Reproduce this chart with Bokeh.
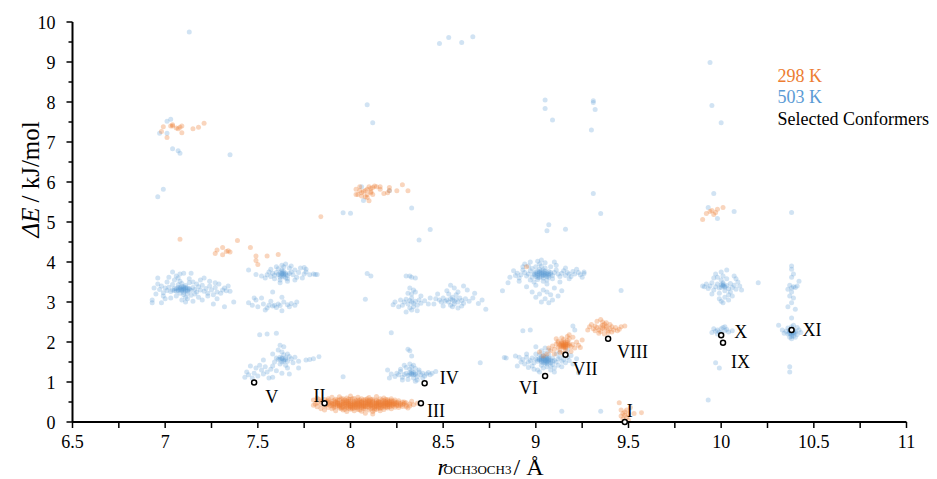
import math
from bokeh.plotting import figure
from bokeh.models import Range1d, ColumnDataSource
from bokeh.core.properties import value
from bokeh.embed import file_html
from bokeh.resources import INLINE

# ---------------- data (r_OCH3OCH3 / Angstrom, dE / kJ/mol) ----------------
# 503 K clusters
b_a = [(7.09,3.33),(7.10,3.30),(7.08,3.36),(7.11,3.28),(7.07,3.31),(7.12,3.35),(7.06,3.27),(7.13,3.32),(7.09,3.39),(7.10,3.24),
       (7.05,3.34),(7.14,3.29),(7.08,3.22),(7.11,3.41),(7.04,3.30),(7.15,3.36),(7.07,3.43),(7.12,3.21),(7.03,3.26),(7.16,3.31),
       (7.09,3.46),(7.10,3.18),(7.02,3.37),(7.17,3.25),(7.06,3.15),(7.13,3.48),(7.01,3.29),(7.18,3.38),(7.08,3.52),(7.11,3.12),
       (7.00,3.35),(7.19,3.30),(7.04,3.44),(7.14,3.17),(6.99,3.23),(7.20,3.42),(7.05,3.55),(7.12,3.08),(6.98,3.40),(7.21,3.27),
       (7.07,3.60),(7.15,3.50),(6.97,3.31),(7.22,3.34),(7.03,3.10),(7.16,3.20),(6.96,3.45),(7.23,3.22),(7.09,3.05),(7.13,3.58),
       (6.95,3.20),(7.24,3.40),(7.01,3.50),(7.18,3.12),(6.94,3.35),(7.25,3.30),(7.06,3.65),(7.17,3.45),(6.93,3.05),(7.26,3.18),
       (6.93,2.98),(7.27,3.36),(7.00,3.08),(7.19,3.55),(6.96,3.60),(7.28,3.25),(7.10,3.72),(7.20,3.05),(7.29,3.45),(7.31,3.30),
       (7.30,3.22),(7.33,3.28),(7.32,3.35),(7.35,3.27),(7.28,3.08),(7.26,2.95),(7.37,3.00),(7.14,3.72),(7.04,3.75),(6.98,2.98),
       (7.21,3.60),(7.02,3.62),(7.08,3.70),(7.23,3.15),(7.15,3.02),(7.24,3.52),(6.99,3.15),(7.11,3.00),(7.34,3.40),(7.27,3.48),
       (7.08,3.31),(7.10,3.35),(7.09,3.28),(7.11,3.33),(7.07,3.36),(7.12,3.30),
       (7.09,3.30),(7.10,3.32),(7.08,3.34),(7.11,3.36),(7.06,3.33),(7.12,3.27),(7.07,3.28),(7.13,3.34),(7.10,3.38),(7.05,3.29)]
b_b = [(7.63,3.70),(7.64,3.68),(7.62,3.73),(7.65,3.72),(7.63,3.65),(7.61,3.69),(7.66,3.66),(7.64,3.76),(7.62,3.62),(7.60,3.74),
       (7.67,3.71),(7.63,3.80),(7.65,3.60),(7.59,3.67),(7.68,3.75),(7.61,3.83),(7.66,3.58),(7.58,3.72),(7.69,3.68),(7.64,3.88),
       (7.62,3.55),(7.57,3.64),(7.70,3.80),(7.60,3.88),(7.67,3.85),(7.56,3.75),(7.71,3.62),(7.63,3.92),(7.66,3.52),(7.55,3.68),
       (7.72,3.74),(7.59,3.58),(7.68,3.90),(7.54,3.60),(7.73,3.85),(7.62,3.48),(7.75,3.70),(7.76,3.82),(7.57,3.82),(7.70,3.55),
       (7.78,3.68),(7.80,3.70),(7.52,3.65),(7.74,3.60),(7.65,3.95),(7.49,3.69),
       (7.63,3.72),(7.64,3.71),(7.62,3.67),(7.64,3.64),(7.63,3.76),(7.65,3.69)]
b_c = [(7.45,2.98),(7.47,2.92),(7.49,3.05),(7.50,2.88),(7.52,3.10),(7.53,2.95),(7.55,2.85),(7.56,2.92),(7.57,3.02),(7.58,2.90),
       (7.59,2.92),(7.60,2.86),(7.61,2.95),(7.62,2.91),(7.63,3.12),(7.64,3.00),(7.63,2.78),(7.66,2.93),(7.68,2.96),(7.70,2.92),
       (7.71,3.00),(7.58,3.25),(7.54,2.80),(7.48,3.10),(7.67,2.88)]
b_d = [(7.63,1.58),(7.64,1.55),(7.62,1.62),(7.65,1.60),(7.63,1.50),(7.61,1.56),(7.66,1.52),(7.64,1.68),(7.62,1.45),(7.60,1.60),
       (7.67,1.64),(7.63,1.75),(7.65,1.42),(7.59,1.50),(7.68,1.58),(7.61,1.80),(7.66,1.70),(7.58,1.40),(7.69,1.48),(7.64,1.88),
       (7.57,1.32),(7.55,1.25),(7.53,1.20),(7.52,1.30),(7.50,1.15),(7.48,1.22),(7.47,1.10),(7.45,1.18),(7.44,1.25),(7.43,1.12),
       (7.56,1.10),(7.58,1.12),(7.54,1.38),(7.51,1.42),(7.60,1.28),(7.70,1.62),(7.72,1.52),(7.66,1.35),(7.63,1.22),(7.67,1.20),
       (7.55,2.20),(7.60,2.22),(7.51,2.18),(7.62,1.92),(7.80,1.58),(7.76,1.55),(7.58,1.70),(7.46,1.40),(7.49,1.35),(7.53,1.55),
       (7.63,1.60),(7.64,1.52),(7.62,1.57),(7.65,1.56)]
b_e = [(8.33,3.00),(8.34,2.97),(8.32,3.04),(8.35,3.02),(8.31,2.95),(8.33,3.10),(8.36,2.92),(8.30,3.07),(8.34,2.88),(8.37,3.05),
       (8.32,2.85),(8.29,3.00),(8.38,2.97),(8.33,3.20),(8.35,3.25),(8.31,3.22),(8.28,2.92),(8.40,3.03),(8.33,2.80),(8.36,2.78),
       (8.30,2.75),(8.34,3.30),(8.32,3.35),(8.27,3.05),(8.42,2.95),(8.26,2.88),(8.38,3.15),(8.35,3.60),(8.33,3.62),(8.24,3.00)]
b_f = [(8.55,3.05),(8.56,3.02),(8.54,3.08),(8.57,3.06),(8.53,3.00),(8.55,3.12),(8.58,3.00),(8.52,3.05),(8.56,2.95),(8.59,3.10),
       (8.51,3.02),(8.54,2.92),(8.60,3.04),(8.50,3.10),(8.57,3.18),(8.53,3.20),(8.61,2.97),(8.49,3.00),(8.62,3.08),(8.55,2.88),
       (8.48,3.05),(8.64,3.02),(8.52,3.28),(8.58,3.25),(8.46,3.08),(8.66,3.10),(8.56,3.35),(8.60,2.90),(8.69,2.96),(8.73,2.82),
       (8.45,2.95),(8.67,3.22),(8.63,3.30),(8.50,2.90),(8.58,2.85),(8.54,3.42),(8.61,3.40),(8.47,3.20),(8.71,3.05),(8.43,3.10)]
b_g = [(9.03,3.70),(9.04,3.68),(9.02,3.73),(9.05,3.72),(9.01,3.66),(9.03,3.78),(9.06,3.64),(9.00,3.75),(9.04,3.60),(9.07,3.76),
       (8.99,3.69),(9.02,3.82),(9.08,3.70),(8.98,3.62),(9.05,3.85),(9.01,3.56),(9.09,3.66),(8.97,3.78),(9.06,3.55),(9.03,3.90),
       (8.96,3.70),(9.10,3.74),(9.00,3.88),(9.07,3.62),(8.95,3.65),(9.11,3.80),(9.04,3.52),(8.98,3.84),(9.12,3.70),(8.94,3.74),
       (9.02,3.95),(9.13,3.64),(8.97,3.55),(9.08,3.88),(8.93,3.80),(9.14,3.72),(9.05,3.98),(8.99,3.50),(9.15,3.78),(8.92,3.68),
       (9.09,3.58),(9.01,4.02),(9.16,3.66),(8.96,3.90),(9.17,3.74),(8.91,3.60),(9.06,3.45),(9.18,3.70),(8.90,3.72),(9.11,3.92),
       (9.19,3.64),(8.94,3.95),(9.20,3.76),(8.89,3.66),(9.21,3.70),(9.00,3.42),(9.13,3.50),(8.88,3.78),(9.23,3.74),(9.25,3.62),
       (9.26,3.75),(8.86,3.62),(8.85,3.48),(9.04,3.30),(9.02,3.20),(9.06,3.25),(9.08,3.18),(9.00,3.12),(9.05,3.08),(9.09,3.05),
       (9.03,3.00),(9.12,3.15),(8.98,3.25),(9.14,3.28),(9.07,2.98),(8.95,3.38),(9.10,3.35),(9.16,3.85),(8.93,3.88),(9.03,4.05),
       (9.18,3.58),(8.97,4.00),(9.10,4.00),(8.91,3.52),(9.22,3.82),(9.24,3.68),(9.01,3.62),(9.05,3.66),(9.02,3.75),(9.07,3.70),
       (9.03,3.72),(9.04,3.66),(9.01,3.71),(9.06,3.69),(9.00,3.64),(9.05,3.77),
       (9.02,3.68),(9.04,3.74),(9.03,3.64),(9.05,3.70),(9.01,3.77),(9.06,3.73),(9.00,3.69),(9.07,3.66),(9.02,3.61),(9.04,3.80),
       (8.99,3.72),(9.08,3.74)]
b_h = [(9.05,1.55),(9.06,1.52),(9.04,1.58),(9.07,1.56),(9.03,1.50),(9.05,1.62),(9.08,1.48),(9.02,1.55),(9.06,1.45),(9.09,1.60),
       (9.01,1.52),(9.04,1.66),(9.10,1.54),(9.00,1.58),(9.07,1.68),(9.03,1.42),(9.11,1.50),(8.99,1.48),(9.08,1.40),(9.05,1.72),
       (8.98,1.60),(9.12,1.58),(9.02,1.68),(9.09,1.44),(8.97,1.54),(9.13,1.62),(9.06,1.38),(9.00,1.70),(9.14,1.52),(8.96,1.50),
       (9.04,1.35),(9.11,1.70),(8.98,1.40),(9.15,1.56),(8.95,1.62),(9.03,1.78),(9.10,1.35),(8.94,1.45),(9.16,1.48),(9.07,1.80),
       (8.99,1.32),(9.12,1.42),(8.93,1.56),(9.17,1.62),(9.01,1.30),(9.13,1.75),(8.95,1.70),(9.08,1.30),(8.92,1.50),(9.18,1.54),
       (9.05,1.85),(9.14,1.38),(8.96,1.36),(9.19,1.66),(9.02,1.25),(8.91,1.62),(9.06,1.58),(9.04,1.48),(9.03,1.60),(9.07,1.50),
       (8.93,2.28),(8.97,2.30),(8.84,1.60),(8.89,1.65),(9.20,1.45),(9.22,1.58),(8.90,1.40),(9.17,1.80),(9.00,1.88),(9.10,1.25),
       (9.04,1.53),(9.06,1.57),(9.05,1.50),(9.03,1.56),(9.07,1.53),(9.05,1.59),
       (9.05,1.54),(9.04,1.60),(9.06,1.49),(9.03,1.53),(9.07,1.60),(9.02,1.58),(9.08,1.55),(9.05,1.47),(9.03,1.64),(9.06,1.62),
       (9.01,1.56),(9.09,1.52)]
b_i = [(8.33,1.20),(8.34,1.18),(8.32,1.23),(8.35,1.21),(8.31,1.16),(8.33,1.27),(8.36,1.14),(8.30,1.22),(8.34,1.10),(8.37,1.25),
       (8.29,1.19),(8.32,1.32),(8.38,1.18),(8.28,1.12),(8.35,1.34),(8.31,1.06),(8.39,1.22),(8.27,1.26),(8.36,1.05),(8.33,1.38),
       (8.26,1.18),(8.40,1.15),(8.30,1.36),(8.37,1.30),(8.25,1.22),(8.41,1.20),(8.34,1.42),(8.28,1.05),(8.42,1.24),(8.24,1.14),
       (8.32,1.45),(8.43,1.18),(8.27,1.32),(8.39,1.10),(8.22,1.20),(8.44,1.22),(8.35,1.02),(8.29,1.42),(8.46,1.26),(8.21,1.10),
       (8.33,1.21),(8.34,1.24),(8.32,1.18),(8.35,1.19)]
b_j = [(10.01,3.40),(10.02,3.37),(10.00,3.43),(10.03,3.41),(9.99,3.35),(10.01,3.48),(10.04,3.33),(9.98,3.45),(10.02,3.28),(10.05,3.46),
       (9.97,3.38),(10.00,3.55),(10.06,3.36),(9.96,3.30),(10.03,3.58),(9.99,3.22),(10.07,3.42),(9.95,3.48),(10.04,3.18),(10.01,3.65),
       (9.94,3.40),(10.08,3.32),(9.98,3.62),(10.05,3.25),(9.93,3.34),(10.09,3.50),(10.02,3.12),(9.97,3.70),(10.10,3.40),(9.92,3.45),
       (10.00,3.75),(10.06,3.15),(9.95,3.20),(10.03,3.80),(9.91,3.38),(10.11,3.30),(9.99,3.08),(10.04,3.05),(9.90,3.40),(10.07,3.65),
       (10.01,2.98),(10.00,3.02),(10.20,3.48),(9.96,3.60),(10.08,3.58),
       (10.01,3.42),(10.02,3.39),(10.00,3.37),(10.01,3.45)]
b_k = [(9.98,2.30),(10.00,2.33),(10.02,2.28),(9.99,2.25),(10.01,2.36),(9.97,2.27),(10.03,2.31),(10.00,2.22),(9.96,2.33),(10.04,2.25),
       (9.95,2.24),(10.02,2.38),(10.06,2.28),(9.98,2.20),(9.97,1.48),(9.99,1.35),(9.93,0.55)]
b_l = [(10.38,2.25),(10.39,2.22),(10.37,2.28),(10.40,2.26),(10.36,2.20),(10.38,2.32),(10.41,2.19),(10.35,2.27),(10.39,2.15),(10.42,2.30),
       (10.37,2.12),(10.38,2.38),(10.40,2.12),(10.36,2.35),(10.34,2.22),(10.41,2.36),(10.38,2.08),(10.39,2.42),(10.43,2.24),(10.33,2.30),
       (10.31,2.42),(10.38,2.18),(10.37,2.24),
       (10.38,2.27),(10.39,2.24),(10.37,2.21),(10.38,2.21),(10.40,2.23),(10.37,2.30),(10.39,2.29),(10.38,2.14),
       (10.38,3.90),(10.38,3.82),(10.39,3.70),(10.38,3.62),(10.37,3.42),(10.39,3.38),(10.38,3.35),(10.40,3.36),(10.36,3.32),(10.41,3.40),
       (10.38,3.25),(10.37,3.15),(10.39,3.10),(10.38,2.98),(10.36,2.88),(10.40,2.82),(10.38,2.60),(10.37,1.38),(10.37,1.25),(10.38,5.24),(10.42,3.52)]
b_scatter = [(7.13,9.75),(7.01,7.52),(7.03,7.57),(6.97,7.22),(7.01,7.22),(7.04,6.83),(7.07,6.78),(7.08,6.72),(7.35,6.68),(6.96,5.63),
             (6.99,5.82),(7.45,3.80),(7.75,3.86),(7.76,3.75),(7.81,3.69),(7.82,3.69),(8.09,3.71),(8.11,3.65),(8.08,3.07),(8.23,2.93),
             (8.22,2.23),(8.30,3.65),(8.32,3.65),(8.32,1.78),(8.33,1.65),(7.83,1.63),(7.78,1.56),(7.96,1.13),(8.31,1.82),(8.37,4.55),
             (8.43,4.81),(7.96,5.23),(8.00,5.22),(8.33,5.35),(8.06,5.88),(8.07,5.54),(8.21,5.78),(8.09,7.93),(8.12,7.48),(8.48,9.46),
             (8.53,9.61),(8.60,9.49),(8.66,9.63),(9.05,8.05),(9.05,7.84),(9.09,7.55),(9.31,8.03),(9.31,7.99),(9.32,7.81),(9.30,7.30),
             (9.31,5.71),(9.35,5.21),(9.07,4.93),(9.06,4.78),(9.16,4.82),(9.94,8.99),(9.95,7.91),(10.00,7.48),(9.96,5.71),(9.93,5.36),
             (9.98,5.09),(10.07,5.26),(8.82,3.28),(8.83,1.61),(8.70,1.48),(9.14,0.27),(9.35,0.27),(9.46,3.29),(9.20,2.40),(9.21,2.30),
             (9.23,1.23),(9.26,3.71),(7.32,2.88),(7.72,1.35),(8.20,1.30)]

# 298 K clusters
o_main = [(7.80,0.55),(7.80,0.42),(7.82,0.48),(7.82,0.38),(7.82,0.60),(7.84,0.44),(7.84,0.52),(7.84,0.33),
          (7.86,0.40),(7.86,0.56),(7.86,0.47),(7.86,0.30),(7.88,0.45),(7.88,0.36),(7.88,0.58),(7.88,0.50),
          (7.90,0.42),(7.90,0.52),(7.90,0.33),(7.90,0.62),(7.90,0.47),(7.92,0.38),(7.92,0.49),(7.92,0.57),(7.92,0.28),(7.92,0.44),
          (7.94,0.46),(7.94,0.35),(7.94,0.55),(7.94,0.41),(7.94,0.63),(7.96,0.40),(7.96,0.50),(7.96,0.30),(7.96,0.58),(7.96,0.45),
          (7.98,0.43),(7.98,0.36),(7.98,0.53),(7.98,0.26),(7.98,0.60),(7.98,0.48),(8.00,0.39),(8.00,0.47),(8.00,0.56),(8.00,0.32),(8.00,0.44),(8.00,0.65),
          (8.02,0.42),(8.02,0.51),(8.02,0.35),(8.02,0.59),(8.02,0.28),(8.02,0.46),(8.04,0.38),(8.04,0.48),(8.04,0.55),(8.04,0.31),(8.04,0.43),(8.04,0.62),
          (8.06,0.45),(8.06,0.36),(8.06,0.52),(8.06,0.27),(8.06,0.58),(8.06,0.41),(8.08,0.40),(8.08,0.49),(8.08,0.33),(8.08,0.56),(8.08,0.44),(8.08,0.22),
          (8.10,0.37),(8.10,0.47),(8.10,0.54),(8.10,0.30),(8.10,0.42),(8.10,0.61),(8.12,0.43),(8.12,0.35),(8.12,0.51),(8.12,0.26),(8.12,0.57),(8.12,0.20),
          (8.14,0.39),(8.14,0.48),(8.14,0.32),(8.14,0.55),(8.14,0.44),(8.14,0.64),(8.16,0.41),(8.16,0.50),(8.16,0.34),(8.16,0.58),(8.16,0.28),
          (8.18,0.38),(8.18,0.46),(8.18,0.53),(8.18,0.31),(8.18,0.60),(8.20,0.42),(8.20,0.49),(8.20,0.35),(8.20,0.56),(8.20,0.44),
          (8.22,0.40),(8.22,0.47),(8.22,0.33),(8.22,0.54),(8.22,0.58),(8.24,0.43),(8.24,0.50),(8.24,0.37),(8.24,0.55),
          (8.26,0.41),(8.26,0.48),(8.26,0.36),(8.26,0.53),(8.28,0.44),(8.28,0.50),(8.28,0.39),(8.30,0.42),(8.30,0.48),(8.30,0.38),
          (8.32,0.45),(8.32,0.40),(8.34,0.43),
          (7.91,0.45),(7.91,0.54),(7.93,0.41),(7.93,0.50),(7.95,0.48),(7.95,0.37),(7.97,0.44),(7.97,0.55),(7.99,0.40),(7.99,0.51),
          (8.01,0.46),(8.01,0.37),(8.03,0.43),(8.03,0.53),(8.05,0.40),(8.05,0.50),(8.07,0.47),(8.07,0.38),(8.09,0.43),(8.09,0.53),
          (8.11,0.40),(8.11,0.50),(8.13,0.46),(8.13,0.38),(8.15,0.43),(8.15,0.52),(8.17,0.45),(8.17,0.36),(8.19,0.42),(8.19,0.51),
          (8.21,0.45),(8.21,0.38),(8.23,0.46),(8.25,0.45),(8.27,0.46),
          (7.93,0.46),(7.95,0.43),(7.97,0.49),(7.99,0.45),(8.01,0.42),(8.03,0.48),(8.05,0.45),(8.07,0.42),(8.09,0.48),(8.11,0.45),
          (8.13,0.42),(8.15,0.47),(8.17,0.41),(8.19,0.46),(8.21,0.43),(7.94,0.39),(7.96,0.53),(7.98,0.39),(8.00,0.51),(8.02,0.39),
          (8.04,0.51),(8.06,0.48),(8.08,0.38),(8.10,0.51),(8.12,0.39),(8.14,0.52),(8.16,0.44),(8.18,0.49),(8.20,0.38),(8.22,0.44),
          (7.89,0.41),(7.91,0.36),(7.95,0.58),(7.99,0.34),(8.03,0.36),(8.07,0.55),(8.11,0.33),(8.15,0.35),(8.19,0.56),(8.23,0.40),
          (7.87,0.52),(7.97,0.32),(8.01,0.58),(8.05,0.30),(8.09,0.58),(8.13,0.30),(8.17,0.55),(8.21,0.52),(8.25,0.49),(8.29,0.46),
          (8.36,0.47),(8.33,0.52),(8.31,0.35),(7.83,0.56),(7.81,0.45),
          (7.90,0.45),(7.92,0.51),(7.94,0.43),(7.96,0.47),(7.98,0.50),(8.00,0.42),(8.02,0.48),(8.04,0.45),(8.06,0.50),(8.08,0.46),
          (8.10,0.44),(8.12,0.48),(8.14,0.41),(8.16,0.47),(8.18,0.43),(8.20,0.47),(8.22,0.50),(8.24,0.46),(7.91,0.40),(7.93,0.55),
          (7.95,0.33),(7.97,0.39),(7.99,0.57),(8.01,0.33),(8.03,0.40),(8.05,0.55),(8.07,0.33),(8.09,0.38),(8.11,0.56),(8.13,0.34),
          (8.15,0.39),(8.17,0.50),(8.19,0.37),(8.21,0.48),(8.23,0.52),(8.25,0.41),(7.89,0.48),(7.87,0.43),(7.88,0.54),(7.96,0.36),
          (8.00,0.36),(8.04,0.35),(8.08,0.52),(8.12,0.53),(8.16,0.37),(8.20,0.53),(8.27,0.42),(8.29,0.50),(7.99,0.47),(8.05,0.42),
          (8.10,0.49),(8.14,0.46),(8.18,0.41),(7.93,0.47),(8.02,0.45),(8.06,0.39),(8.11,0.42),(8.15,0.50),(8.19,0.48),(8.23,0.44)]
o_vii = [(9.15,1.92),(9.16,1.95),(9.14,1.88),(9.17,1.90),(9.15,1.98),(9.13,1.93),(9.16,1.85),(9.18,1.96),(9.14,2.00),(9.12,1.87),
         (9.17,2.03),(9.19,1.88),(9.13,1.80),(9.15,2.06),(9.20,1.94),(9.11,1.95),(9.16,1.78),(9.18,2.08),(9.12,2.02),(9.21,1.85),
         (9.10,1.82),(9.14,2.10),(9.19,1.76),(9.22,2.00),(9.09,1.90),(9.17,2.14),(9.13,1.74),(9.23,1.92),(9.11,2.08),(9.20,2.12),
         (9.08,1.78),(9.15,1.72),(9.24,1.86),(9.18,2.18),(9.06,1.70),(9.04,1.65),(9.10,1.70),(9.25,2.05),(9.16,1.90),(9.14,1.95),
         (9.15,1.86),(9.17,1.98),(9.12,1.98),(9.07,1.85),(9.02,1.75),(9.15,1.94),(9.16,1.88),(9.14,1.91),
         (9.15,1.90),(9.16,1.93),(9.14,1.97),(9.17,1.94),(9.15,1.88),(9.16,2.00),(9.13,1.90),(9.18,1.92)]
o_viii = [(9.36,2.35),(9.37,2.32),(9.35,2.38),(9.38,2.36),(9.34,2.30),(9.36,2.42),(9.39,2.28),(9.33,2.36),(9.37,2.45),(9.40,2.33),
          (9.32,2.40),(9.35,2.26),(9.41,2.38),(9.31,2.33),(9.38,2.48),(9.34,2.22),(9.42,2.30),(9.30,2.44),(9.39,2.24),(9.36,2.50),
          (9.43,2.36),(9.29,2.38),(9.33,2.52),(9.40,2.44),(9.44,2.28),(9.37,2.20),(9.46,2.38),(9.48,2.40),(9.28,2.30),(9.35,2.56),
          (9.38,2.40),(9.41,2.25),(9.32,2.28),(9.45,2.32)]
o_i = [(9.45,0.48),(9.46,0.30),(9.47,0.21),(9.48,0.17),(9.49,0.12),(9.48,0.25),(9.50,0.20),(9.51,0.36),(9.53,0.21),(9.57,0.23),
       (9.47,0.08),(9.49,0.30),(9.46,0.15),(9.50,0.05)]
o_high = [(8.03,5.82),(8.03,5.69),(8.05,5.78),(8.05,5.88),(8.06,5.73),(8.06,5.65),(8.07,5.76),(8.08,5.79),(8.09,5.69),(8.09,5.82),
          (8.09,5.61),(8.10,5.88),(8.10,5.53),(8.11,5.73),(8.11,5.76),(8.12,5.69),(8.12,5.86),(8.13,5.90),(8.14,5.88),(8.16,5.82),
          (8.16,5.88),(8.18,5.71),(8.20,5.73),(8.21,5.86),(8.21,5.79),(8.25,5.78),(8.28,5.93),(8.31,5.78),(8.04,5.69),(8.08,5.63),
          (8.11,5.84),(7.84,5.13)]
o_top = [(6.98,7.26),(6.99,7.38),(7.01,7.11),(7.03,7.40),(7.04,7.40),(7.04,7.43),(7.07,7.33),(7.08,7.37),(7.09,7.40),(7.09,7.23),
         (7.15,7.33),(7.18,7.37),(7.21,7.47),(7.06,7.35)]
o_mid = [(7.27,4.21),(7.28,4.30),(7.31,4.36),(7.31,4.18),(7.33,4.26),(7.35,4.25),(7.34,4.28),(7.39,4.54),(7.46,4.36),(7.49,4.15),
         (7.49,4.04),(7.50,3.94),(7.55,4.15),(7.61,4.19),(7.08,4.57),(8.95,3.88)]
o_right = [(9.90,5.06),(9.92,5.21),(9.94,5.26),(9.95,5.29),(9.98,5.32),(10.01,5.36),(9.96,5.19),(9.97,5.24)]

# selected conformers
sel_names = ["I", "II", "III", "IV", "V", "VI", "VII", "VIII", "IX", "X", "XI"]
sel_x = [9.48, 7.86, 8.38, 8.40, 7.48, 9.05, 9.16, 9.39, 10.01, 10.00, 10.38]
sel_y = [0.00, 0.47, 0.47, 0.97, 0.99, 1.15, 1.68, 2.08, 1.98, 2.17, 2.30]

legend_labels = ["298 K", "503 K", "Selected Conformers"]

x_label_ticks = [6.5, 7, 7.5, 8, 8.5, 9, 9.5, 10, 10.5, 11]
x_tick_labels = ["6.5", "7", "7.5", "8", "8.5", "9", "9.5", "10", "10.5", "11"]
x_minor_ticks = [6.75, 7.25, 7.75, 8.25, 8.75, 9.25, 9.75, 10.25, 10.75]
y_label_ticks = [0, 1, 2, 3, 4, 5, 6, 7, 8, 9, 10]
y_tick_labels = ["0", "1", "2", "3", "4", "5", "6", "7", "8", "9", "10"]
y_minor_ticks = [0.5, 1.5, 2.5, 3.5, 4.5, 5.5, 6.5, 7.5, 8.5, 9.5]

# ---------------- layout / styling ----------------
ORANGE = "#ED7D31"
BLUE = "#5B9BD5"
FONT = "Liberation Serif"
W, H = 937, 479
X0, X1, XMIN, XMAX = 72.0, 906.0, 6.5, 11.0      # frame pixels for axis limits
Y0, Y1, YMIN, YMAX = 421.5, 21.5, 0.0, 10.0
SX = (X1 - X0) / (XMAX - XMIN)
SY = (Y0 - Y1) / (YMAX - YMIN)
XS = XMIN - X0 / SX
YE = YMAX + Y1 / SY


def xd(px):
    return XS + px / SX


def yd(py):
    return YE - py / SY


p = figure(width=W, height=H, output_backend="svg", toolbar_location=None, title=None,
           x_range=Range1d(xd(0), xd(W)), y_range=Range1d(yd(H), yd(0)),
           x_axis_location=None, y_axis_location=None, min_border=0)
p.min_border_left = p.min_border_right = p.min_border_top = p.min_border_bottom = 0
p.outline_line_color = None
p.grid.visible = False
p.background_fill_color = "white"
p.border_fill_color = "white"

blue_pts = b_a + b_b + b_c + b_d + b_e + b_f + b_g + b_h + b_i + b_j + b_k + b_l + b_scatter
orange_pts = o_main + o_vii + o_viii + o_i + o_high + o_top + o_mid + o_right

p.scatter([q[0] for q in blue_pts], [q[1] for q in blue_pts], size=5,
          fill_color=BLUE, fill_alpha=0.28, line_color=None)
p.scatter([q[0] for q in orange_pts], [q[1] for q in orange_pts], size=5,
          fill_color=ORANGE, fill_alpha=0.32, line_color=None)

# axes drawn by hand (ticks outside)
TK = 6
xt = x_label_ticks + x_minor_ticks
p.segment(x0=xt, y0=[YMIN] * len(xt), x1=xt, y1=[YMIN - TK / SY] * len(xt),
          line_color="black", line_width=1.5)
p.segment(x0=[XMIN - TK / SX] * len(y_label_ticks), y0=y_label_ticks, x1=[XMIN] * len(y_label_ticks),
          y1=y_label_ticks, line_color="black", line_width=1.5)
p.segment(x0=[XMIN - 4 / SX] * len(y_minor_ticks), y0=y_minor_ticks, x1=[XMIN] * len(y_minor_ticks),
          y1=y_minor_ticks, line_color="black", line_width=1.5)
p.line([XMIN, XMAX], [YMIN, YMIN], line_color="black", line_width=2)
p.line([XMIN, XMIN], [YMIN, YMAX], line_color="black", line_width=2)

p.text(x=x_label_ticks, y=[YMIN] * len(x_label_ticks), text=x_tick_labels, y_offset=13,
       text_font=value(FONT), text_font_size="18px", text_color="black",
       text_align="center", text_baseline="top")
p.text(x=[XMIN] * len(y_label_ticks), y=y_label_ticks, text=y_tick_labels, x_offset=-17,
       text_font=value(FONT), text_font_size="18px", text_color="black",
       text_align="right", text_baseline="middle")

# selected conformers
p.scatter(sel_x, sel_y, size=5, marker="circle", fill_color="white",
          line_color="black", line_width=1.5)
dxo = [2, -11, 6, 15, 11, -26, 7, 9, 8, 13, 11]
dyo = [-11, -7, 8, -5, 15, 12, 14, 13, 19, -3, 0]
src = ColumnDataSource(dict(x=sel_x, y=sel_y, name=sel_names, dx=dxo, dy=dyo))
p.text(x="x", y="y", text="name", x_offset="dx", y_offset="dy", source=src,
       text_font=value(FONT), text_font_size="18px", text_color="black",
       text_align="left", text_baseline="alphabetic")

# legend texts
p.text(x=[xd(777)] * 3, y=[yd(75), yd(96.7), yd(118.3)], text=legend_labels,
       text_color=[ORANGE, BLUE, "black"], text_font=value(FONT), text_font_size="18px",
       text_align="left", text_baseline="alphabetic")

# y axis title (rotated)
p.text(x=[xd(30)], y=[yd(237)], text=["ΔE"], angle=math.pi / 2,
       text_font=value(FONT), text_font_style="italic", text_font_size="25px",
       text_color="black", text_align="left", text_baseline="alphabetic")
p.text(x=[xd(30)], y=[yd(202)], text=["/ kJ/mol"], angle=math.pi / 2,
       text_font=value(FONT), text_font_size="25px",
       text_color="black", text_align="left", text_baseline="alphabetic")

# x axis title
p.text(x=[xd(437)], y=[yd(466)], text=["r"], text_font=value(FONT), text_font_style="italic",
       text_font_size="24px", text_color="black", text_align="left", text_baseline="alphabetic")
p.text(x=[xd(443)], y=[yd(469)], text=["OCH3OCH3"], text_font=value(FONT),
       text_font_size="13px", text_color="black", text_align="left", text_baseline="alphabetic")
p.text(x=[xd(513)], y=[yd(466)], text=["/ Å"], text_font=value(FONT),
       text_font_size="24px", text_color="black", text_align="left", text_baseline="alphabetic")

open("out.html", "w").write(file_html(p, INLINE))
